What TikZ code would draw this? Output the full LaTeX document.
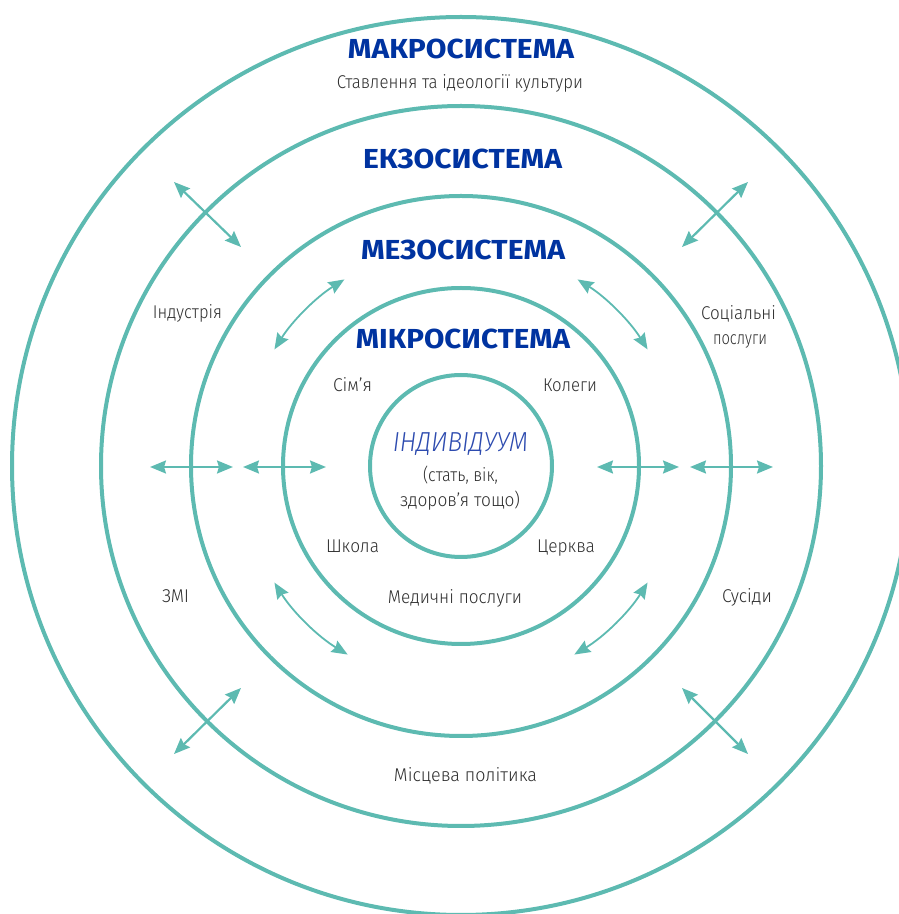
\documentclass[tikz,border=0pt]{standalone}
\usepackage{fontspec}
\setmainfont{Fira Sans}[UprightFont=* Light, ItalicFont=* Light Italic, BoldFont=* Bold]
\usetikzlibrary{arrows.meta,calc}
\definecolor{teal1}{RGB}{93,186,177}
\definecolor{hblue}{RGB}{0,51,160}
\definecolor{iblue}{RGB}{45,75,175}
\definecolor{txt}{RGB}{45,45,45}
\newcommand\tw[2]{\resizebox{#1pt}{\height}{#2}}
\begin{document}
\begin{tikzpicture}[x=1pt,y=1pt,
  ring/.style={circle,draw=teal1,line width=4pt,inner sep=0pt,outer sep=0pt},
  tip/.style={Stealth[length=16pt,width=13pt,inset=2pt]},
  dbl/.style={teal1,line width=2.2pt,{Stealth[length=16pt,width=13pt,inset=2pt]}-{Stealth[length=16pt,width=13pt,inset=2pt]}},
  curv/.style={dbl,line width=1.8pt},
  head/.style={font=\bfseries\fontsize{27.5}{30}\selectfont,text=hblue,inner sep=0pt,anchor=base},
  lbl/.style={font=\fontsize{18.5}{22}\selectfont,text=txt,inner sep=0pt,anchor=base},
  indiv/.style={font=\itshape\fontsize{27.5}{30}\selectfont,text=iblue,inner sep=0pt,anchor=base}]
\useasboundingbox (0,0) rectangle (899,914);
\clip (0,0) rectangle (899,914);
\coordinate (C) at (461,448);
% rings
\node[ring,minimum size=898pt] (mac) at (C) {};
\node[ring,minimum size=720pt] (exo) at (C) {};
\node[ring,minimum size=540pt] (mes) at (C) {};
\node[ring,minimum size=356pt] (mic) at (C) {};
\node[ring,minimum size=182pt] (ind) at (C) {};
% horizontal arrows
\coordinate (h1a) at (150,447); \coordinate (h1b) at (233,447);
\coordinate (h2a) at (243,447); \coordinate (h2b) at (326,447);
\coordinate (h3a) at (597,447); \coordinate (h3b) at (679,447);
\coordinate (h4a) at (690,447); \coordinate (h4b) at (773,447);
\draw[dbl] (h1a) -- (h1b);
\draw[dbl] (h2a) -- (h2b);
\draw[dbl] (h3a) -- (h3b);
\draw[dbl] (h4a) -- (h4b);
% diagonal arrows across the exosystem ring
\coordinate (d1a) at (174,732); \coordinate (d1b) at (241,667);
\coordinate (d2a) at (748,732); \coordinate (d2b) at (682,667);
\coordinate (d3a) at (241,226); \coordinate (d3b) at (174,160);
\coordinate (d4a) at (682,226); \coordinate (d4b) at (748,160);
\draw[dbl] (d1a) -- (d1b);
\draw[dbl] (d2a) -- (d2b);
\draw[dbl] (d3a) -- (d3b);
\draw[dbl] (d4a) -- (d4b);
% curved arrows between micro and meso rings
\coordinate (c1) at ($(C)+(122:220)$);
\coordinate (c2) at ($(C)+(58:220)$);
\coordinate (c3) at ($(C)+(212:220)$);
\coordinate (c4) at ($(C)+(328:220)$);
\draw[curv] (c1) arc[start angle=122,end angle=148,radius=220];
\draw[curv] (c2) arc[start angle=58,end angle=32,radius=220];
\draw[curv] (c3) arc[start angle=212,end angle=239,radius=220];
\draw[curv] (c4) arc[start angle=328,end angle=301,radius=220];
% headings
\node[head] (macT) at (461,855) {\tw{226}{МАКРОСИСТЕМА}};
\node[lbl]  (macS) at (460,825) {\tw{246}{Ставлення та ідеології культури}};
\node[head] (exoT) at (462.5,745) {\tw{199}{ЕКЗОСИСТЕМА}};
\node[head] (mesT) at (463,654) {\tw{204}{МЕЗОСИСТЕМА}};
\node[head] (micT) at (463,565) {\tw{214}{МІКРОСИСТЕМА}};
% microsystem labels
\node[lbl] (fam) at (352.5,522) {\tw{39}{Сім’я}};
\node[lbl] (col) at (570,522) {\tw{54}{Колеги}};
\node[lbl] (sch) at (352.5,361) {\tw{53}{Школа}};
\node[lbl] (chu) at (566,361) {\tw{58}{Церква}};
\node[lbl] (med) at (455,310) {\tw{134}{Медичні послуги}};
% individual
\node[indiv] (indT) at (460.5,462) {\tw{135}{ІНДИВІДУУМ}};
\node[lbl] (ind1) at (460.5,432) {\tw{75}{(стать, вік,}};
\node[lbl] (ind2) at (460,407) {\tw{120}{здоров’я тощо)}};
% exosystem labels
\node[lbl] (indu) at (187.5,595) {\tw{69}{Індустрія}};
\node[lbl] (soc1) at (738.5,594) {\tw{75}{Соціальні}};
\node[lbl] (soc2) at (740,569) {\tw{54}{послуги}};
\node[lbl] (zmi) at (175.5,311) {\tw{27}{ЗМІ}};
\node[lbl] (sus) at (747,311) {\tw{50}{Сусіди}};
\node[lbl] (pol) at (465.5,132) {\tw{143}{Місцева політика}};
\end{tikzpicture}
\end{document}
